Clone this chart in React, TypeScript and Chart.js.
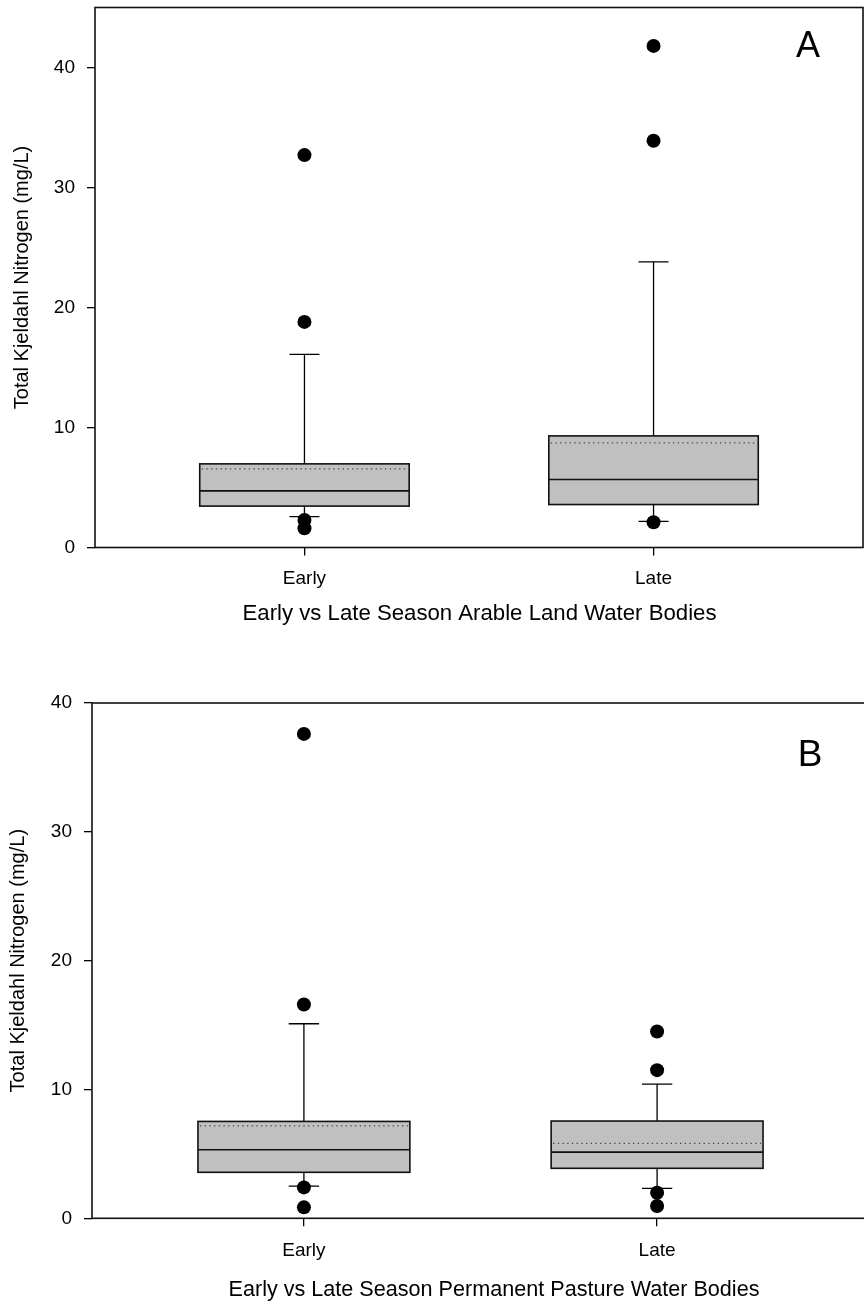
import React, { useEffect, useRef } from 'react';
import { Chart, registerables } from 'chart.js';

Chart.register(...registerables);

const FONT = '"Liberation Sans", Arial, sans-serif';

// ---------- data ----------
const categories = ['Early', 'Late'];
const yTicksA = [0, 10, 20, 30, 40];
const yTicksB = [0, 10, 20, 30, 40];

// Panel A: arable land
const aQ1 = [3.45, 3.58];
const aMedian = [4.72, 5.67];
const aQ3 = [6.97, 9.3];
const aMean = [6.56, 8.72];
const aWhiskerLow = [2.58, 2.17];
const aWhiskerHigh = [16.1, 23.8];
const aOutliersEarly = [2.3, 1.6, 18.8, 32.7];
const aOutliersLate = [2.1, 33.9, 41.8];

// Panel B: permanent pasture
const bQ1 = [3.57, 3.88];
const bMedian = [5.32, 5.14];
const bQ3 = [7.52, 7.55];
const bMean = [7.18, 5.82];
const bWhiskerLow = [2.5, 2.33];
const bWhiskerHigh = [15.1, 10.42];
const bOutliersEarly = [2.4, 0.85, 16.6, 37.6];
const bOutliersLate = [1.98, 0.95, 11.5, 14.5];

const BOX_HALF = 0.3;
const CAP_HALF = 0.043;

const boxPlugin = {
  id: 'boxes',
  beforeDatasetsDraw(chart: any, _args: any, opts: any) {
    const { ctx } = chart;
    const x = chart.scales.x;
    const y = chart.scales.y;
    const s = opts.stats;
    if (!s) return;
    ctx.save();
    for (let i = 0; i < s.q1.length; i++) {
      const c = i + 1;
      const xl = x.getPixelForValue(c - BOX_HALF);
      const xr = x.getPixelForValue(c + BOX_HALF);
      const xc = x.getPixelForValue(c);
      const cl = x.getPixelForValue(c - CAP_HALF);
      const cr = x.getPixelForValue(c + CAP_HALF);
      const yq1 = y.getPixelForValue(s.q1[i]);
      const yq3 = y.getPixelForValue(s.q3[i]);
      const ymed = y.getPixelForValue(s.median[i]);
      const ymean = y.getPixelForValue(s.mean[i]);
      const ylo = y.getPixelForValue(s.lo[i]);
      const yhi = y.getPixelForValue(s.hi[i]);
      ctx.strokeStyle = '#000';
      ctx.lineWidth = 1.3;
      ctx.setLineDash([]);
      ctx.beginPath();
      ctx.moveTo(xc, yq3); ctx.lineTo(xc, yhi);
      ctx.moveTo(cl, yhi); ctx.lineTo(cr, yhi);
      ctx.moveTo(xc, yq1); ctx.lineTo(xc, ylo);
      ctx.moveTo(cl, ylo); ctx.lineTo(cr, ylo);
      ctx.stroke();
      ctx.fillStyle = '#c0c0c0';
      ctx.fillRect(xl, yq3, xr - xl, yq1 - yq3);
      ctx.lineWidth = 1.6;
      ctx.strokeStyle = '#111';
      ctx.strokeRect(xl, yq3, xr - xl, yq1 - yq3);
      ctx.beginPath();
      ctx.moveTo(xl, ymed); ctx.lineTo(xr, ymed);
      ctx.stroke();
      ctx.lineWidth = 1.2;
      ctx.strokeStyle = '#444';
      ctx.setLineDash([1.3, 3.4]);
      ctx.beginPath();
      ctx.moveTo(xl + 2, ymean); ctx.lineTo(xr - 2, ymean);
      ctx.stroke();
      ctx.setLineDash([]);
    }
    ctx.restore();
  },
  afterDraw(chart: any, _args: any, opts: any) {
    const { ctx, chartArea } = chart;
    ctx.save();
    ctx.strokeStyle = '#111';
    ctx.lineWidth = 1.6;
    ctx.strokeRect(chartArea.left, chartArea.top, chartArea.right - chartArea.left, chartArea.bottom - chartArea.top);
    ctx.fillStyle = '#000';
    ctx.textAlign = 'center';
    ctx.textBaseline = 'middle';
    if (opts.letter) {
      ctx.font = `${opts.letterSize}px ${FONT}`;
      ctx.fillText(opts.letter, opts.letterX, chartArea.top + opts.letterDy);
    }
    if (opts.xTitle) {
      ctx.font = `${opts.xTitleSize}px ${FONT}`;
      const cx = (chartArea.left + chartArea.right) / 2 + opts.xTitleDx;
      ctx.fillText(opts.xTitle, cx, chartArea.bottom + opts.xTitleDy);
    }
    ctx.restore();
  },
};

type PanelProps = {
  q1: number[]; median: number[]; q3: number[]; mean: number[];
  lo: number[]; hi: number[];
  outliers: number[][];
  yMax: number; yTicks: number[];
  xTitle: string; letter: string;
  width: number; height: number;
  padTop: number; padRight: number;
  yAxisWidth: number; xAxisHeight: number;
  xTitleDx: number; xTitleDy: number; xTitleSize: number;
  yTitlePadTop: number;
  letterX: number; letterDy: number; letterSize: number;
  xTickPad: number;
  top: number;
};

function zeroPad(s: any) {
  s.paddingLeft = 0;
  s.paddingRight = 0;
  s.paddingTop = 0;
  s.paddingBottom = 0;
}

function Panel(p: PanelProps) {
  const ref = useRef<HTMLCanvasElement | null>(null);
  useEffect(() => {
    if (!ref.current) return;
    const font = { family: FONT, size: 19 };
    const yTitleFont = { family: FONT, size: 20 };
    const datasets = p.outliers.map((vals, i) => ({
      data: vals.map((v) => ({ x: i + 1, y: v })),
      backgroundColor: '#000',
      borderColor: '#000',
      pointRadius: 7,
      pointHoverRadius: 7,
      borderWidth: 0,
    }));
    const chart = new Chart(ref.current, {
      type: 'scatter',
      data: { datasets },
      plugins: [boxPlugin],
      options: {
        responsive: false,
        animation: false,
        devicePixelRatio: 1,
        events: [],
        layout: { autoPadding: false, padding: { top: p.padTop, right: p.padRight, left: 0, bottom: 0 } },
        plugins: {
          legend: { display: false },
          tooltip: { enabled: false },
          boxes: {
            stats: { q1: p.q1, median: p.median, q3: p.q3, mean: p.mean, lo: p.lo, hi: p.hi },
            letter: p.letter, letterX: p.letterX, letterDy: p.letterDy, letterSize: p.letterSize,
            xTitle: p.xTitle, xTitleDx: p.xTitleDx, xTitleDy: p.xTitleDy, xTitleSize: p.xTitleSize,
          },
        } as any,
        scales: {
          x: {
            type: 'linear',
            min: 0.4,
            max: 2.6,
            afterBuildTicks: (s: any) => { s.ticks = categories.map((_, i) => ({ value: i + 1 })); },
            afterFit: (s: any) => { s.height = p.xAxisHeight; zeroPad(s); },
            ticks: {
              callback: (v: any) => categories[Math.round(Number(v)) - 1] ?? '',
              font, color: '#000', padding: p.xTickPad, autoSkip: false, maxRotation: 0,
            },
            grid: { drawOnChartArea: false, tickLength: 8, tickColor: '#000', lineWidth: 1.3 },
            border: { display: false },
            title: { display: false },
          },
          y: {
            type: 'linear',
            min: 0,
            max: p.yMax,
            afterBuildTicks: (s: any) => { s.ticks = p.yTicks.map((v) => ({ value: v })); },
            afterFit: (s: any) => { s.width = p.yAxisWidth; zeroPad(s); },
            ticks: { font, color: '#000', padding: 12 },
            grid: { drawOnChartArea: false, tickLength: 8, tickColor: '#000', lineWidth: 1.3 },
            border: { display: false },
            title: { display: true, text: 'Total Kjeldahl Nitrogen (mg/L)', font: yTitleFont, color: '#000', padding: { top: p.yTitlePadTop, bottom: 0 } },
          },
        },
      } as any,
    });
    return () => chart.destroy();
  }, []);
  return (
    <canvas
      ref={ref}
      width={p.width}
      height={p.height}
      style={{ position: 'absolute', left: 0, top: p.top, width: p.width, height: p.height }}
    />
  );
}

export default function App() {
  return (
    <div style={{ position: 'absolute', left: 0, top: 0, width: 864, height: 1308, overflow: 'hidden', background: '#fff' }}>
      <Panel
        q1={aQ1} median={aMedian} q3={aQ3} mean={aMean} lo={aWhiskerLow} hi={aWhiskerHigh}
        outliers={[aOutliersEarly, aOutliersLate]}
        yMax={45} yTicks={yTicksA}
        xTitle="Early vs Late Season Arable Land Water Bodies" letter="A"
        width={864} height={640} padTop={7.5} padRight={1}
        yAxisWidth={95} xAxisHeight={92.5}
        xTitleDx={0.5} xTitleDy={66} xTitleSize={22.2} yTitlePadTop={10}
        letterX={808} letterDy={40} letterSize={36} xTickPad={12}
        top={0}
      />
      <Panel
        q1={bQ1} median={bMedian} q3={bQ3} mean={bMean} lo={bWhiskerLow} hi={bWhiskerHigh}
        outliers={[bOutliersEarly, bOutliersLate]}
        yMax={40} yTicks={yTicksB}
        xTitle="Early vs Late Season Permanent Pasture Water Bodies" letter="B"
        width={872} height={668} padTop={63} padRight={3}
        yAxisWidth={92} xAxisHeight={89.7}
        xTitleDx={13.5} xTitleDy={72} xTitleSize={21.6} yTitlePadTop={6}
        letterX={810} letterDy={53} letterSize={37} xTickPad={13}
        top={640}
      />
    </div>
  );
}
